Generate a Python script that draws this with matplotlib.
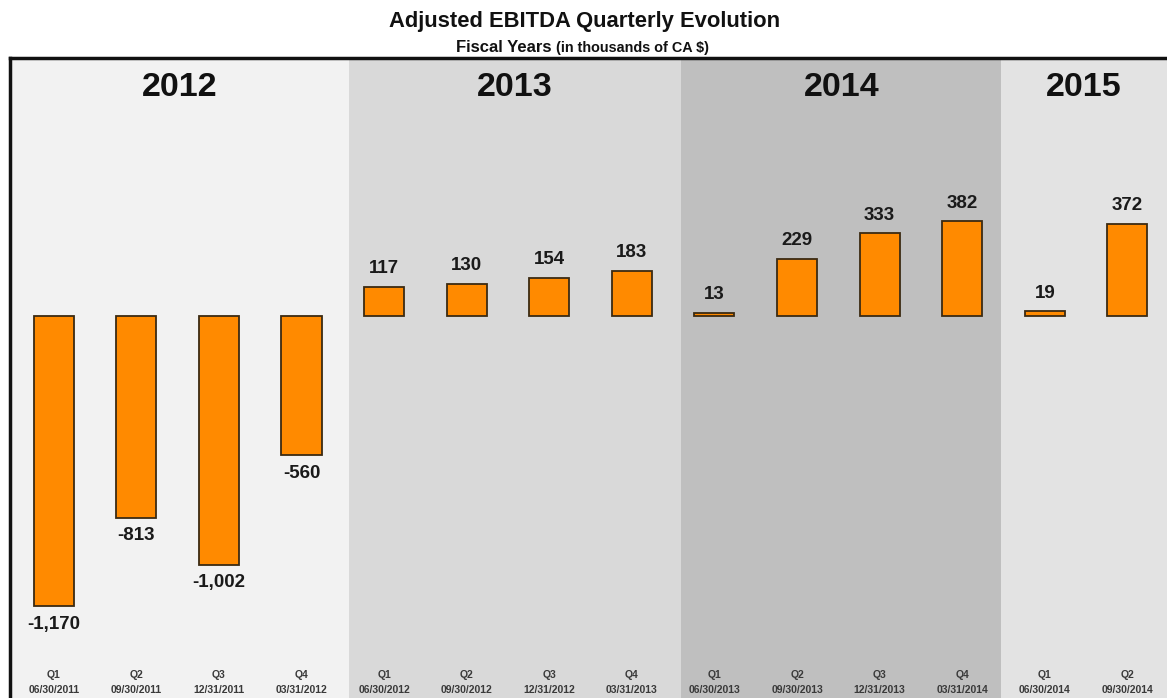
import matplotlib
matplotlib.use("Agg")
import matplotlib.pyplot as plt
import matplotlib.transforms as mtransforms

# ---- data ----
quarters = ["Q1", "Q2", "Q3", "Q4", "Q1", "Q2", "Q3", "Q4",
            "Q1", "Q2", "Q3", "Q4", "Q1", "Q2"]
dates = ["06/30/2011", "09/30/2011", "12/31/2011", "03/31/2012",
         "06/30/2012", "09/30/2012", "12/31/2012", "03/31/2013",
         "06/30/2013", "09/30/2013", "12/31/2013", "03/31/2014",
         "06/30/2014", "09/30/2014"]
values = [-1170, -813, -1002, -560, 117, 130, 154, 183,
          13, 229, 333, 382, 19, 372]
years = ["2012", "2013", "2014", "2015"]
year_bounds = [(-0.53, 3.57), (3.57, 7.6), (7.6, 11.47), (11.47, 13.48)]
year_colors = ["#f2f2f2", "#d9d9d9", "#bfbfbf", "#e3e3e3"]

plt.rcParams["font.family"] = ["Liberation Sans", "DejaVu Sans"]

fig = plt.figure(figsize=(11.67, 6.98), dpi=100)
fig.patch.set_facecolor("white")
ax = fig.add_axes([10 / 1167, 0.0, 1 - 10 / 1167, 1 - 58 / 698])

x = list(range(len(values)))
ax.set_xlim(-0.53, 13.48)
ax.set_ylim(-1540, 1040)

for (a, b), c in zip(year_bounds, year_colors):
    ax.axvspan(a, b, color=c, zorder=0, lw=0)

bars = ax.bar(x, values, width=0.485, color="#ff8a00",
              edgecolor="#3b2a12", linewidth=1.3, zorder=2)

for xi, v in zip(x, values):
    label = f"{v:,}"
    if v >= 0:
        ax.annotate(label, (xi, v), xytext=(0, 7), textcoords="offset points",
                    ha="center", va="bottom", fontsize=13.5, fontweight="bold",
                    color="#1a1a1a")
    else:
        ax.annotate(label, (xi, v), xytext=(0, -7), textcoords="offset points",
                    ha="center", va="top", fontsize=13.5, fontweight="bold",
                    color="#1a1a1a")

trans = mtransforms.blended_transform_factory(ax.transData, ax.transAxes)
for (a, b), yr in zip(year_bounds, years):
    ax.text((a + b) / 2, 1 - 29 / 640, yr, transform=trans,
            ha="center", va="center", fontsize=24.5, fontweight="bold",
            color="#111111")

for xi, q, d in zip(x, quarters, dates):
    ax.text(xi, 23 / 640, q, transform=trans, ha="center", va="center",
            fontsize=7.5, fontweight="bold", color="#3a3a3a")
    ax.text(xi, 8 / 640, d, transform=trans, ha="center", va="center",
            fontsize=7.5, fontweight="bold", color="#3a3a3a")

ax.set_xticks([])
ax.set_yticks([])
for s in ["right", "bottom"]:
    ax.spines[s].set_visible(False)
for s in ["left", "top"]:
    ax.spines[s].set_linewidth(2.5)
    ax.spines[s].set_color("#111111")

fig.text(585 / 1167, 1 - 22 / 698, "Adjusted EBITDA Quarterly Evolution",
         ha="center", va="center", fontsize=15.8, fontweight="bold", color="#111111")
fig.text(552 / 1167, 1 - 47 / 698, "Fiscal Years", ha="right", va="center",
         fontsize=12, fontweight="bold", color="#111111")
fig.text(556 / 1167, 1 - 48 / 698, "(in thousands of CA $)", ha="left", va="center",
         fontsize=10.4, fontweight="bold", color="#111111")

fig.savefig("out.png", dpi=100)
